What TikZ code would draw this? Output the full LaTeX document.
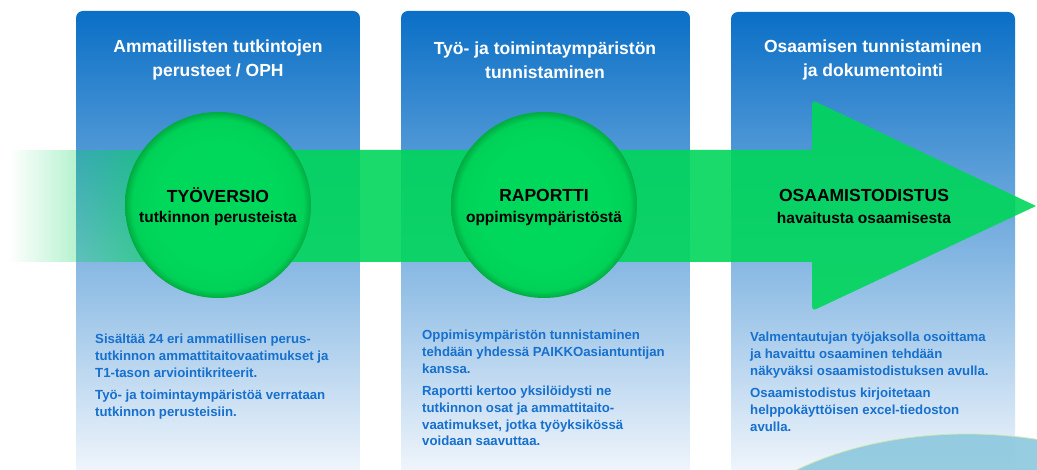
\documentclass[tikz,border=0pt]{standalone}
\usepackage{fontspec}
\setmainfont{Liberation Sans}
\usetikzlibrary{fadings}
\definecolor{arrgreen}{RGB}{0,214,90}
\definecolor{ballc}{RGB}{0,216,92}
\definecolor{balle}{RGB}{0,172,64}
\definecolor{paneltop}{RGB}{10,111,198}
\definecolor{panelbot}{RGB}{246,249,253}
\definecolor{bodyblue}{RGB}{22,112,206}
\definecolor{hill}{RGB}{140,200,222}
\pgfdeclareradialshading{ball}{\pgfpoint{0bp}{0bp}}{color(0bp)=(ballc); color(16bp)=(ballc); color(23bp)=(ballc!85!balle); color(25bp)=(balle); color(50bp)=(balle)}
\tikzfading[name=fadeR, left color=transparent!100, right color=transparent!0]
\tikzset{
  panel/.style={top color=paneltop, bottom color=panelbot, rounded corners=7pt},
  ptitle/.style={text=white, font=\bfseries\fontsize{17.5}{24}\selectfont, align=center},
  ballnode/.style={circle, minimum size=186pt, inner sep=0pt, shading=ball, align=center},
  btitle/.style={font=\bfseries\fontsize{17.5}{20}\selectfont},
  bsub/.style={font=\bfseries\fontsize{15.5}{16}\selectfont},
  body/.style={text=bodyblue, font=\bfseries\fontsize{13.2}{16.7}\selectfont, align=left, anchor=north west, inner sep=0pt},
}
\begin{document}
\begin{tikzpicture}[x=1pt, y=-1pt]
\useasboundingbox (0,0) rectangle (1037,470);
\clip (0,0) rectangle (1037,470);
\fill[white] (0,0) rectangle (1037,470);
% panels
\shade[panel] (76,485) -- (76,11) -- (360,11) -- (360,485) -- cycle;
\shade[panel] (401,485) -- (401,11) -- (690,11) -- (690,485) -- cycle;
\shade[panel] (731,485) -- (731,12) -- (1015,12) -- (1015,485) -- cycle;
% panel titles
\node[ptitle] (t1) at (218,60) {Ammatillisten tutkintojen\\perusteet / OPH};
\node[ptitle] (t2) at (545,60) {Työ- ja toimintaympäristön\\tunnistaminen};
\node[ptitle] (t3) at (873,60) {Osaamisen tunnistaminen\\ja dokumentointi};
% arrow
\fill[arrgreen, opacity=0.9, path fading=fadeR] (10,150) rectangle (219,262);
\fill[arrgreen, opacity=0.9] (218,150) -- (812,150)
  {[rounded corners=4pt] -- (812,100)} -- (1036,206)
  {[rounded corners=4pt] -- (812,311)} -- (812,262) -- (218,262) -- cycle;
% balls
\node[ballnode] (b1) at (218,205) {};
\node[ballnode] (b2) at (544,205) {};
\node[btitle] (b1t) at (218,195) {TYÖVERSIO};
\node[bsub] (b1s) at (218,218) {tutkinnon perusteista};
\node[btitle] (b2t) at (544,195) {RAPORTTI};
\node[bsub] (b2s) at (544,218) {oppimisympäristöstä};
\node[btitle] (b3t) at (864,195) {OSAAMISTODISTUS};
\node[bsub] (b3s) at (864,218) {havaitusta osaamisesta};
% hill
\fill[hill, opacity=0.9, draw=hill!60!yellow!70!white, line width=0.8pt] (967,584) ellipse [x radius=262, y radius=150];
% body texts
\node[body] (p1) at (95,334) {Sisältää 24 eri ammatillisen perus-\\tutkinnon ammattitaitovaatimukset ja\\T1-tason arviointikriteerit.\\[6pt]Työ- ja toimintaympäristöä verrataan\\tutkinnon perusteisiin.};
\node[body] (p2) at (422,330) {Oppimisympäristön tunnistaminen\\tehdään yhdessä PAIKKOasiantuntijan\\kanssa.\\[6pt]Raportti kertoo yksilöidysti ne\\tutkinnon osat ja ammattitaito-\\vaatimukset, jotka työyksikössä\\voidaan saavuttaa.};
\node[body] (p3) at (750,332) {Valmentautujan työjaksolla osoittama\\ja havaittu osaaminen tehdään\\näkyväksi osaamistodistuksen avulla.\\[6pt]Osaamistodistus kirjoitetaan\\helppokäyttöisen excel-tiedoston\\avulla.};
\end{tikzpicture}
\end{document}
